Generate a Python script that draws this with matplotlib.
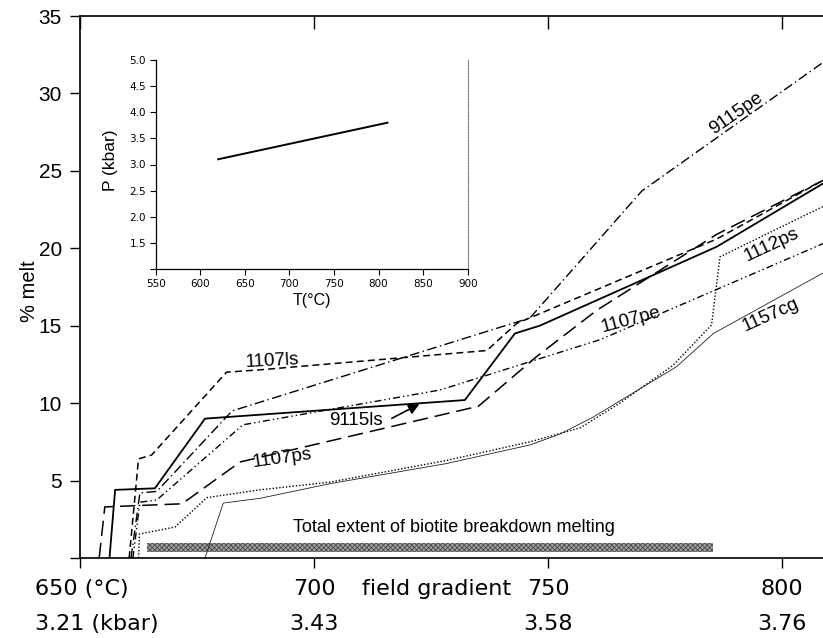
import matplotlib
matplotlib.use('Agg')
import matplotlib.pyplot as plt

plt.rcParams['font.family'] = ['Liberation Sans', 'DejaVu Sans']
plt.rcParams['lines.scale_dashes'] = False
plt.rcParams['hatch.linewidth'] = 0.6

# ---------------- data (T in deg C, melt in %) ----------------
t_9115ls = [656.3, 657.5, 666.0, 676.7, 732.2, 742.9, 748.2, 786.0, 808.8]
m_9115ls = [0.0, 4.4, 4.5, 9.0, 10.2, 14.5, 15.0, 20.1, 24.2]

t_1107ps = [654.1, 655.3, 671.8, 684.2, 735.1, 747.5, 760.4, 786.0, 808.8]
m_1107ps = [0.0, 3.3, 3.5, 6.2, 9.8, 13.0, 16.0, 20.9, 24.4]

t_1107ls = [660.5, 662.5, 665.3, 681.3, 688.4, 736.9, 743.3, 786.0, 808.8]
m_1107ls = [0.0, 6.4, 6.65, 12.0, 12.15, 13.4, 15.15, 20.6, 24.4]

t_9115pe = [660.9, 662.8, 666.4, 682.5, 746.1, 770.0, 808.7]
m_9115pe = [0.0, 4.2, 4.3, 9.5, 15.5, 23.7, 32.0]

t_1107pe = [661.3, 662.8, 666.4, 684.8, 726.9, 761.1, 808.7]
m_1107pe = [0.0, 3.6, 3.75, 8.6, 10.85, 14.1, 20.3]

t_1112ps = [662.5, 662.7, 670.3, 677.1, 688.4, 703.4, 728.3, 746.1, 756.8, 765.3, 776.7, 784.9, 786.7, 808.7]
m_1112ps = [0.0, 1.55, 2.0, 3.9, 4.4, 4.9, 6.3, 7.5, 8.4, 10.0, 12.45, 15.05, 19.45, 22.7]

t_1157cg = [676.7, 680.6, 688.4, 703.4, 728.3, 746.1, 752.5, 759.6, 777.4, 785.3, 808.7]
m_1157cg = [0.0, 3.55, 3.85, 4.8, 6.1, 7.3, 8.0, 9.1, 12.35, 14.5, 18.4]

bar_T = [664.3, 785.3]            # total extent of biotite breakdown melting

grad_T = [650, 700, 750, 800]     # field gradient temperatures
grad_P = ['3.21', '3.43', '3.58', '3.76']

inset_T = [620, 810]
inset_P = [3.1, 3.8]

# ---------------- figure ----------------
W, H = 823, 638
fig = plt.figure(figsize=(W / 100, H / 100), dpi=100)

def fx(px):
    return px / W

def fy(py):
    return 1 - py / H

ax = fig.add_axes([fx(80), fy(558), fx(823) - fx(80), fy(16) - fy(558)])
ax.set_xlim(650, 808.7)
ax.set_ylim(0, 35)

ax.spines['right'].set_visible(False)
for s in ['left', 'bottom', 'top']:
    ax.spines[s].set_linewidth(1.2)

ax.set_yticks(range(0, 36, 5))
ax.set_yticklabels([''] + [str(v) for v in range(5, 36, 5)], fontsize=15)
ax.tick_params(axis='y', direction='out', length=7, width=1, pad=6)
ax.set_xticks(grad_T)
ax.set_xticklabels([])
ax.tick_params(axis='x', direction='out', length=7, width=1, top=True)
for tk in ax.xaxis.get_major_ticks():
    tk.tick2line.set_markersize(9)
    tk.tick2line.set_marker(3)  # top ticks point down into the plot

fig.text(fx(30), fy(291), '% melt', rotation=90, ha='center', va='center', fontsize=14.5)

lc = 'black'
ax.plot(t_9115ls, m_9115ls, color=lc, lw=1.3)
ax.plot(t_1107ps, m_1107ps, color=lc, lw=1.1, dashes=(11, 5))
ax.plot(t_1107ls, m_1107ls, color=lc, lw=1.1, dashes=(5, 3))
ax.plot(t_9115pe, m_9115pe, color=lc, lw=1.0, dashes=(7, 2.5, 1, 2.5))
ax.plot(t_1107pe, m_1107pe, color=lc, lw=1.0, dashes=(5, 2.2, 1, 2.2, 1, 2.2))
ax.plot(t_1112ps, m_1112ps, color=lc, lw=1.0, dashes=(1, 1.4))
ax.plot(t_1157cg, m_1157cg, color='#222222', lw=0.6)

# biotite breakdown bar
ax.fill_between(bar_T, 0.39, 0.97, facecolor='#a0a0a0', edgecolor='#4a4a4a',
                hatch='xxxxxxx', linewidth=0)
ax.text(695.5, 1.95, 'Total extent of biotite breakdown melting', fontsize=13,
        ha='left', va='center')

# curve labels
lab = dict(fontsize=13.5, ha='center', va='center')
ax.text(691.0, 12.72, '1107ls', rotation=3, **lab)
ax.text(709.0, 8.9, '9115ls', rotation=0, **lab)
ax.text(693.1, 6.46, '1107ps', rotation=8, **lab)
ax.text(767.7, 15.4, '1107pe', rotation=15, **lab)
ax.text(797.8, 20.2, '1112ps', rotation=25, **lab)
ax.text(797.6, 15.7, '1157cg', rotation=24, **lab)
ax.text(790.1, 28.7, '9115pe', rotation=35, **lab)
ax.annotate('', xy=(722.5, 9.94), xytext=(716.6, 9.02),
            arrowprops=dict(arrowstyle='-|>', mutation_scale=16, lw=1.2,
                            color='black', shrinkA=0, shrinkB=0))

# bottom tick labels (two rows)
bl = dict(fontsize=16, family='DejaVu Sans', va='center')
tr = ax.get_xaxis_transform()
row1 = -(589 - 558) / 542
row2 = -(624 - 558) / 542
fig.text(fx(35), fy(589), f'{grad_T[0]} (°C)', ha='left', **bl)
fig.text(fx(35), fy(624), f'{grad_P[0]} (kbar)', ha='left', **bl)
for t, p in zip(grad_T[1:], grad_P[1:]):
    ax.text(t, row1, str(t), transform=tr, ha='center', **bl)
    ax.text(t, row2, p, transform=tr, ha='center', **bl)
fig.text(fx(437), fy(589), 'field gradient', ha='center', **bl)

# ---------------- inset ----------------
axin = fig.add_axes([fx(155.7), fy(269), fx(467.7) - fx(155.7), fy(60) - fy(269)])
axin.plot(inset_T, inset_P, color='black', lw=1.4)
axin.set_xlim(550, 900)
axin.set_ylim(1.0, 5.0)
axin.set_xticks(range(550, 901, 50))
axin.set_xticklabels([str(v) for v in range(550, 901, 50)], fontsize=7.5, family='DejaVu Sans')
yt = [1.0, 1.5, 2.0, 2.5, 3.0, 3.5, 4.0, 4.5, 5.0]
axin.set_yticks(yt)
axin.set_yticklabels([''] + [f'{v:.1f}' for v in yt[1:]], fontsize=7.5, family='DejaVu Sans')
axin.tick_params(direction='out', length=4, width=0.8, pad=3)
axin.spines['top'].set_visible(False)
axin.spines['right'].set_linestyle((0, (1, 1)))
axin.spines['right'].set_color('#777777')
axin.spines['left'].set_linewidth(0.9)
axin.spines['bottom'].set_linewidth(0.9)
axin.set_xlabel('T(°C)', fontsize=11.5, labelpad=3)
fig.text(fx(110), fy(160), 'P (kbar)', rotation=90, ha='center', va='center', fontsize=12.5)

fig.savefig('out.png', dpi=100)
